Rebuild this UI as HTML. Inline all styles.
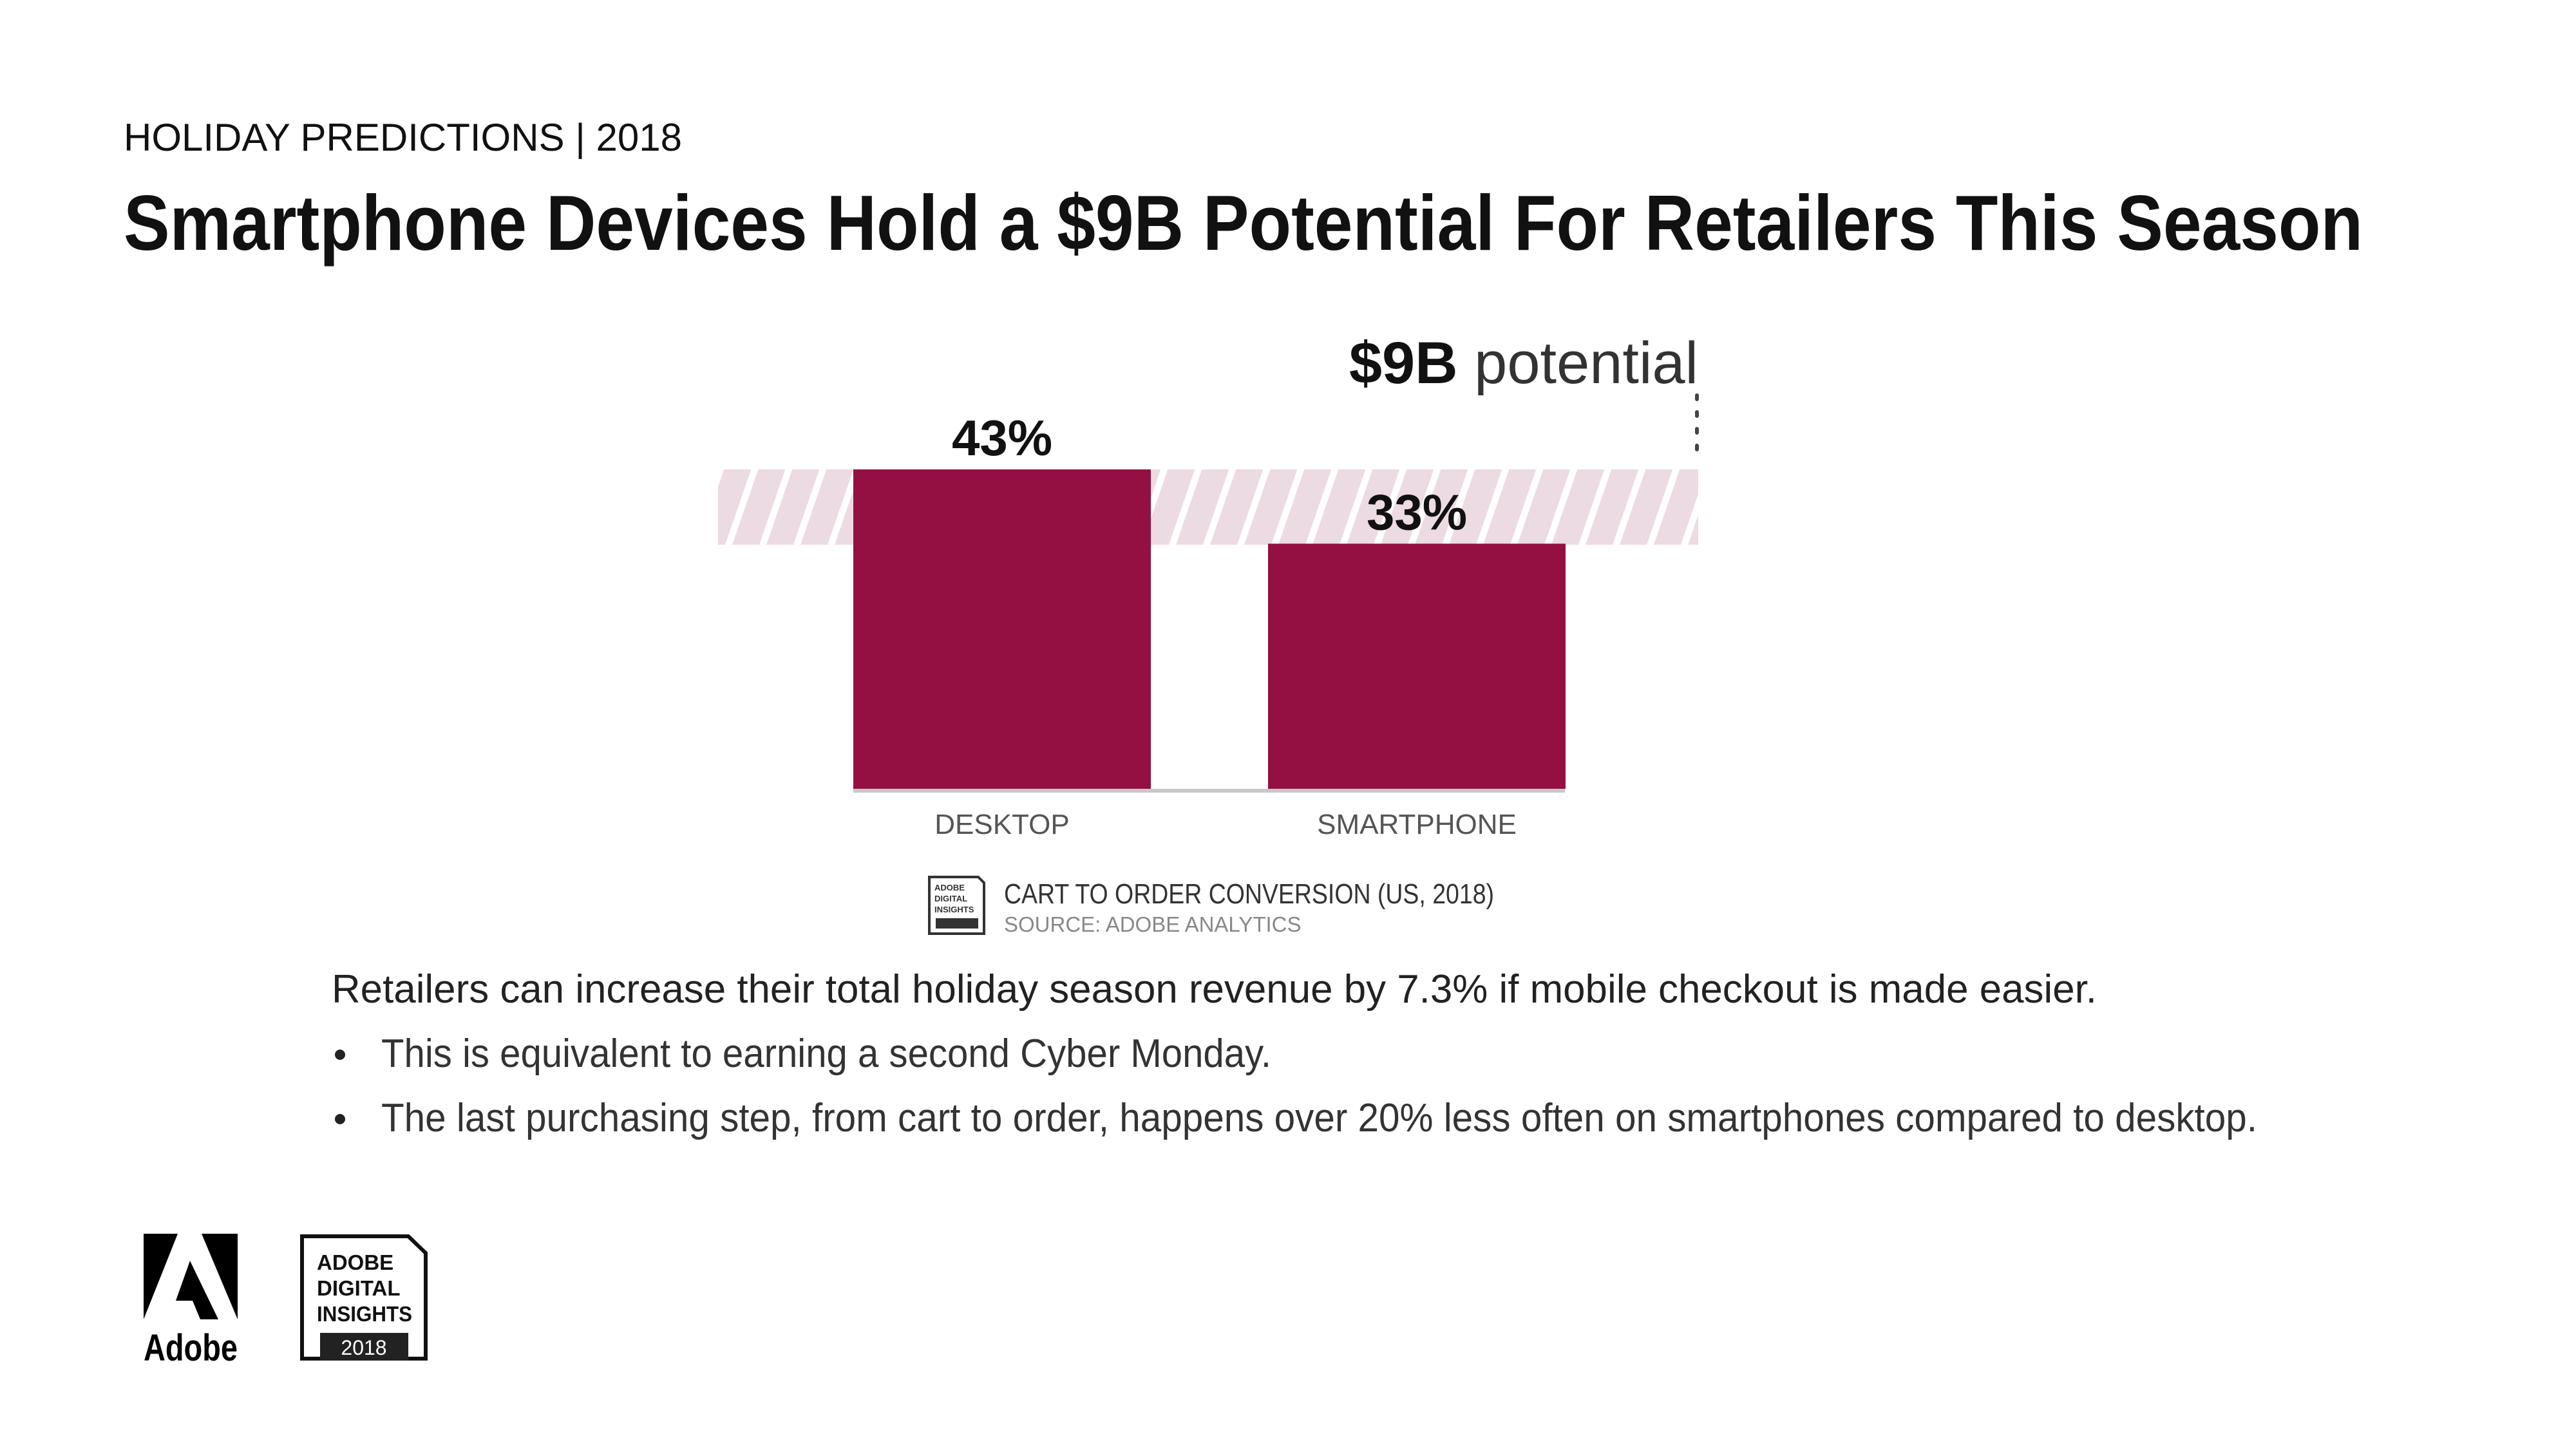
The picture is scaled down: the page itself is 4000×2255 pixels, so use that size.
<!DOCTYPE html>
<html><head><meta charset="utf-8"><style>
html,body{margin:0;padding:0;background:#fff;}
body{width:4000px;height:2250px;overflow:hidden;position:relative;font-family:"Liberation Sans",sans-serif;}
</style></head><body>
<svg width="4000" height="2250" viewBox="0 0 4000 2250" xmlns="http://www.w3.org/2000/svg">
<defs>
<pattern id="hatch" patternUnits="userSpaceOnUse" width="53" height="117" x="1116" y="731" patternTransform="skewX(-19)">
<rect x="-10" width="73" height="117" fill="#ecdbe3"/>
<rect x="40" y="0" width="11" height="117" fill="#fff"/>
</pattern>
</defs>
<g transform="translate(-3,-2)">
<text x="195" y="236" font-size="60" fill="#111">HOLIDAY PREDICTIONS | 2018</text>
<text x="195" y="390" font-size="122" font-weight="bold" fill="#111" textLength="3477" lengthAdjust="spacingAndGlyphs">Smartphone Devices Hold a $9B Potential For Retailers This Season</text>

<g id="chart">
<rect x="1118" y="731" width="1522" height="117" fill="url(#hatch)"/>
<line x1="2638" y1="616" x2="2638" y2="716" stroke="#444" stroke-width="6" stroke-dasharray="6,20" stroke-linecap="round"/>
<text x="2640" y="597" text-anchor="end" font-size="92" fill="#333"><tspan font-weight="bold" fill="#111">$9B</tspan> potential</text>
<g id="bars"></g>
<rect x="1328" y="1227" width="1105" height="6" fill="#c8c8c8"/>
</g>

<g>
<path d="M1446,1364 H1522 L1531,1373 V1452 H1446 Z" fill="#fff" stroke="#333" stroke-width="4"/>
<text x="1454" y="1385" font-size="13" font-weight="bold" fill="#333">ADOBE</text>
<text x="1454" y="1402" font-size="13" font-weight="bold" fill="#333">DIGITAL</text>
<text x="1454" y="1419" font-size="13" font-weight="bold" fill="#333">INSIGHTS</text>
<rect x="1456" y="1428" width="66" height="16" fill="#333"/>
<text x="1562" y="1405" font-size="44" fill="#333" textLength="761" lengthAdjust="spacingAndGlyphs">CART TO ORDER CONVERSION (US, 2018)</text>
<text x="1562" y="1449" font-size="33" fill="#888">SOURCE: ADOBE ANALYTICS</text>
</g>

<text x="518" y="1559" font-size="62" fill="#222" textLength="2741" lengthAdjust="spacingAndGlyphs">Retailers can increase their total holiday season revenue by 7.3% if mobile checkout is made easier.</text>
<circle cx="531" cy="1640" r="8" fill="#222"/>
<text x="595" y="1659" font-size="62" fill="#333" textLength="1382" lengthAdjust="spacingAndGlyphs">This is equivalent to earning a second Cyber Monday.</text>
<circle cx="531" cy="1740" r="8" fill="#222"/>
<text x="595" y="1759" font-size="62" fill="#333" textLength="2913" lengthAdjust="spacingAndGlyphs">The last purchasing step, from cart to order, happens over 20% less often on smartphones compared to desktop.</text>

<g>
<polygon points="226,1918 279,1918 226,2051" fill="#000"/>
<polygon points="316,1918 372,1918 372,2051" fill="#000"/>
<polygon points="298,1960 342,2051 314,2051 302,2022 276,2022" fill="#000"/>
<text x="226" y="2115" font-size="58" font-weight="bold" fill="#000" textLength="146" lengthAdjust="spacingAndGlyphs">Adobe</text>
</g>
<g>
<path d="M472,1922 H637 L664,1948 V2112 H472 Z" fill="none" stroke="#111" stroke-width="6"/>
<text x="495" y="1974" font-size="33" font-weight="bold" fill="#111">ADOBE</text>
<text x="495" y="2014" font-size="33" font-weight="bold" fill="#111">DIGITAL</text>
<text x="495" y="2054" font-size="33" font-weight="bold" fill="#111" textLength="148" lengthAdjust="spacingAndGlyphs">INSIGHTS</text>
<rect x="500" y="2072" width="137" height="43" fill="#222"/>
<text x="568" y="2106" font-size="32" fill="#fff" text-anchor="middle">2018</text>
</g>
</g>
</svg>
<script>
const categories = ["DESKTOP", "SMARTPHONE"];
const values = [43, 33];
const valueLabels = ["43%", "33%"];
const NS = "http://www.w3.org/2000/svg";
const y0 = 1227, pxPerUnit = 496 / 43;
function yScale(v){ return y0 - v * pxPerUnit; }
function xLeft(i){ return 1328 + i * 644; }
const barW = 462;
const g = document.getElementById("bars");
categories.forEach((c, i) => {
  const r = document.createElementNS(NS, "rect");
  r.setAttribute("x", xLeft(i));
  r.setAttribute("y", yScale(values[i]));
  r.setAttribute("width", barW);
  r.setAttribute("height", y0 - yScale(values[i]));
  r.setAttribute("fill", "#941042");
  
  
  g.appendChild(r);
  const t = document.createElementNS(NS, "text");
  t.setAttribute("x", xLeft(i) + barW / 2);
  t.setAttribute("y", yScale(values[i]) - 22);
  t.setAttribute("text-anchor", "middle");
  t.setAttribute("font-size", "78");
  t.setAttribute("font-weight", "bold");
  t.setAttribute("fill", "#111");
  t.textContent = valueLabels[i];
  
  
  g.appendChild(t);
  const l = document.createElementNS(NS, "text");
  l.setAttribute("x", xLeft(i) + barW / 2);
  l.setAttribute("y", 1297);
  l.setAttribute("text-anchor", "middle");
  l.setAttribute("font-size", "44");
  l.setAttribute("fill", "#555");
  l.textContent = c;
  
  
  g.appendChild(l);
});
</script>
</body></html>
